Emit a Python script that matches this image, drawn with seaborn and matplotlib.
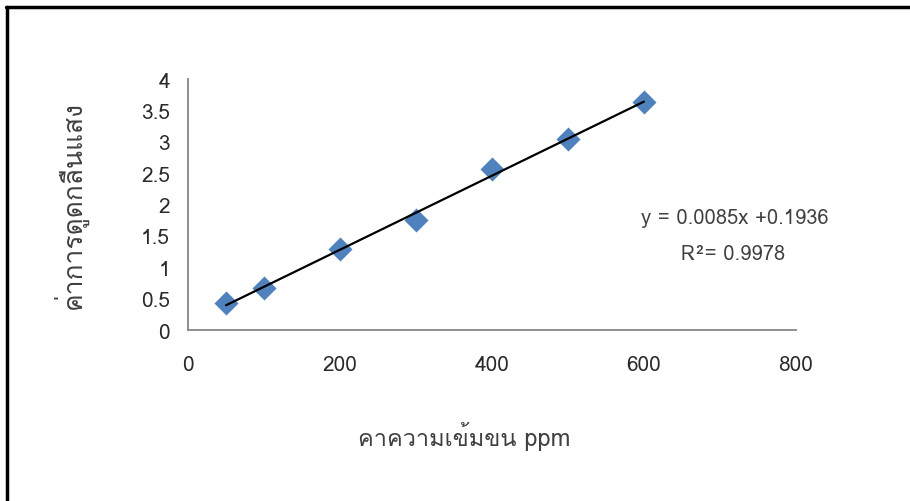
import numpy as np
import pandas as pd
import matplotlib
matplotlib.use("Agg")
import matplotlib.pyplot as plt
import seaborn as sns
from matplotlib import font_manager
from matplotlib.ft2font import FT2Font
from matplotlib.lines import Line2D

# data
conc_ppm = [50, 100, 200, 300, 400, 500, 600]
absorbance = [0.43, 0.67, 1.29, 1.75, 2.57, 3.04, 3.63]
x_ticks = [0, 200, 400, 600, 800]
y_ticks = [0, 0.5, 1, 1.5, 2, 2.5, 3, 3.5, 4]
eq_text = "y = 0.0085x +0.1936"
r2_text = "R²= 0.9978"
x_label = "คาความเข้มขน ppm"
y_label = "ค่าการดูดกลืนแสง"

df = pd.DataFrame({"conc": conc_ppm, "abs": absorbance})


def find_thai_font():
    # look for any installed font that has Thai glyphs
    for f in font_manager.fontManager.ttflist:
        try:
            cmap = FT2Font(f.fname).get_charmap()
        except Exception:
            continue
        if 0x0E01 in cmap and 0x0E07 in cmap:
            return f.name
    return None


sns.set_theme(style="white")
thai = find_thai_font()
fams = ["DejaVu Sans"]
if thai:
    fams = [thai, "DejaVu Sans"]
plt.rcParams["font.family"] = fams

fig = plt.figure(figsize=(9.1, 5.02), dpi=100)
ax = fig.add_axes([0.2066, 0.3406, 0.668, 0.50])

axis_grey = "#868686"
text_grey = "#404040"

# trend line from a linear fit of the points
coef = np.polyfit(df["conc"], df["abs"], 1)
xs = np.array([df["conc"].min(), df["conc"].max()])
ax.plot(xs, np.polyval(coef, xs), color="black", lw=1.6, zorder=3)

sns.scatterplot(data=df, x="conc", y="abs", marker="D", s=150,
                color="#4F81BD", edgecolor="#4F81BD", linewidth=0,
                ax=ax, zorder=2)

ax.set_xlim(0, 800)
ax.set_ylim(0, 4)
ax.set_xticks(x_ticks)
ax.set_yticks(y_ticks)
ax.set_xticklabels([str(t) for t in x_ticks])
ax.set_yticklabels([f"{t:g}" for t in y_ticks])

for side in ["top", "right"]:
    ax.spines[side].set_visible(False)
for side in ["left", "bottom"]:
    ax.spines[side].set_color(axis_grey)
    ax.spines[side].set_linewidth(1.3)

ax.tick_params(axis="both", direction="out", length=7, width=1.3,
               color=axis_grey, labelcolor="#2a2a2a", labelsize=15)
ax.tick_params(axis="x", pad=11)
ax.tick_params(axis="y", pad=6)
ax.set_xlabel("")
ax.set_ylabel("")

fig.text(464 / 910, 1 - 437 / 502, x_label, ha="center", va="center",
         fontsize=17, color=text_grey)
fig.text(70 / 910, 1 - 205 / 502, y_label, ha="center", va="center",
         rotation=90, fontsize=19, color=text_grey)

fig.text(735 / 910, 1 - 219 / 502, eq_text, ha="center", va="center",
         fontsize=14.5, color=text_grey)
fig.text(733 / 910, 1 - 255 / 502, r2_text, ha="center", va="center",
         fontsize=14.5, color=text_grey)

# frame of the screenshot (top and left edges)
fig.add_artist(Line2D([6 / 910, 1.0], [1 - 8 / 502, 1 - 8 / 502],
                      color="black", lw=2.5, transform=fig.transFigure))
fig.add_artist(Line2D([7 / 910, 7 / 910], [0.0, 1 - 8 / 502],
                      color="black", lw=2.5, transform=fig.transFigure))

fig.savefig("out.png", dpi=100)
